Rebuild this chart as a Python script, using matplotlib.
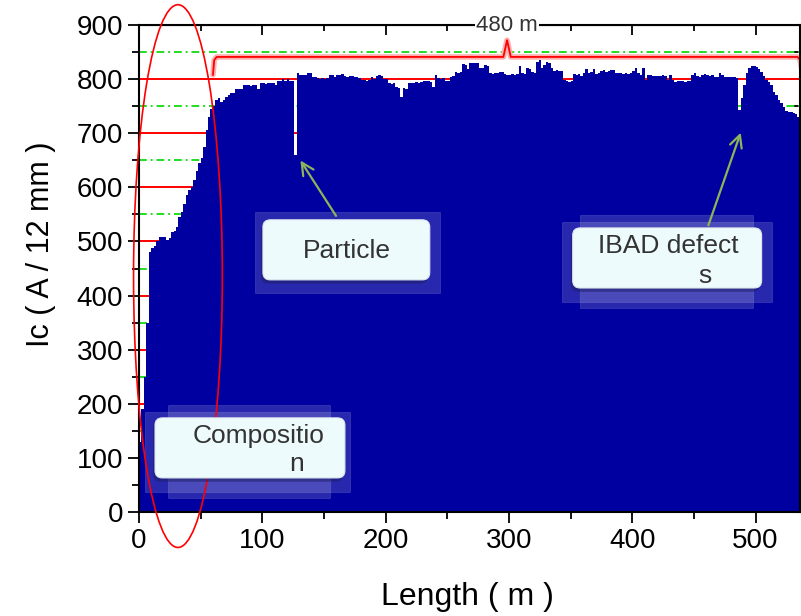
import numpy as np
import matplotlib.pyplot as plt
from matplotlib.patches import Ellipse, FancyBboxPatch, Rectangle

plt.rcParams['font.family'] = ['Liberation Sans', 'DejaVu Sans']

# Ic, one value per 2 m of tape
bin_width = 2.0
ic_values = [
    130, 190, 250, 350, 480, 488, 492, 500, 508, 508,
    508, 503, 506, 517, 520, 527, 545, 555, 570, 585,
    595, 600, 614, 630, 645, 655, 675, 706, 730, 745,
    750, 762, 765, 758, 762, 767, 770, 774, 775, 781,
    781, 781, 789, 789, 789, 788, 789, 790, 782, 792,
    792, 791, 793, 792, 792, 790, 796, 796, 800, 797,
    801, 796, 796, 660, 812, 808, 808, 807, 812, 812,
    803, 803, 802, 801, 802, 800, 802, 808, 808, 804,
    808, 807, 809, 806, 803, 805, 806, 803, 803, 802,
    798, 799, 797, 798, 803, 801, 806, 807, 806, 801,
    800, 792, 791, 793, 786, 784, 767, 783, 781, 792,
    793, 792, 794, 793, 795, 796, 796, 796, 795, 785,
    808, 802, 801, 802, 796, 797, 804, 805, 813, 812,
    813, 828, 826, 819, 830, 829, 830, 829, 820, 821,
    826, 825, 811, 810, 812, 811, 813, 814, 809, 808,
    808, 809, 807, 810, 824, 811, 810, 820, 818, 813,
    812, 832, 835, 820, 826, 832, 830, 820, 815, 816,
    815, 815, 798, 796, 795, 796, 809, 808, 809, 805,
    812, 819, 812, 813, 819, 810, 811, 815, 816, 814,
    815, 816, 816, 812, 811, 812, 810, 811, 810, 812,
    815, 820, 812, 808, 820, 798, 808, 808, 806, 806,
    805, 806, 807, 806, 798, 808, 798, 795, 796, 796,
    796, 795, 796, 796, 808, 811, 806, 804, 807, 809,
    808, 806, 808, 803, 804, 811, 808, 804, 803, 804,
    803, 803, 802, 743, 765, 789, 811, 820, 824, 824,
    822, 818, 813, 806, 798, 795, 789, 776, 770, 761,
    755, 749, 742, 740, 740, 738, 735, 730, 735,
]
length = np.arange(len(ic_values)) * bin_width

major_levels = [100, 200, 300, 400, 500, 600, 700, 800]
minor_levels = [50, 150, 250, 350, 450, 550, 650, 750, 850]
x_ticks = [0, 100, 200, 300, 400, 500]
y_ticks = [0, 100, 200, 300, 400, 500, 600, 700, 800, 900]

fig = plt.figure(figsize=(8.01, 6.16), dpi=100)
ax = fig.add_axes([0.1735, 0.1688, 0.8252, 0.7906])

for lv in major_levels:
    ax.axhline(lv, color='red', lw=1.4, zorder=0.5)
for lv in minor_levels:
    ax.axhline(lv, color='#22dd22', lw=1.4, ls=(0, (4, 2, 1, 2)), zorder=0.5)

ax.bar(length, ic_values, width=bin_width, align='edge', color='#0000a0',
       edgecolor='none', zorder=1)

ax.set_xlim(0, 536)
ax.set_ylim(0, 900)
ax.set_xticks(x_ticks)
ax.set_xticks(np.arange(50, 536, 100), minor=True)
ax.set_yticks(y_ticks)
ax.set_yticks(np.arange(50, 900, 100), minor=True)
ax.tick_params(which='both', direction='out', labelsize=20, width=1.3)
ax.tick_params(which='major', length=8)
ax.tick_params(which='minor', length=5)
for s in ax.spines.values():
    s.set_linewidth(1.5)

top = ax.secondary_xaxis('top')
top.set_xticks(x_ticks)
top.set_xticks(np.arange(50, 536, 100), minor=True)
top.set_xticklabels([])
top.tick_params(which='both', direction='in', width=1.3)
top.tick_params(which='major', length=7)
top.tick_params(which='minor', length=4)
right = ax.secondary_yaxis('right')
right.set_yticks(y_ticks)
right.set_yticks(np.arange(50, 900, 100), minor=True)
right.set_yticklabels([])
right.tick_params(which='both', direction='in', width=1.3)
right.tick_params(which='major', length=7)
right.tick_params(which='minor', length=4)

ax.set_xlabel('Length ( m )', fontsize=23)
ax.xaxis.set_label_coords(0.497, -0.143)
ax.set_ylabel('Ic ( A / 12 mm )', fontsize=22)
ax.yaxis.set_label_coords(-0.125, 0.55)

# red ellipse round the low start
ax.add_patch(Ellipse((31.6, 436), 72, 1003, fill=False, edgecolor='red',
                     lw=1.2, zorder=3, clip_on=False))

# bracket marking 480 m
bx = [60, 61, 63, 295.5, 298.5, 301.5, 534, 536, 538]
by = [808, 835, 841, 841, 872, 841, 841, 836, 812]
ax.plot(bx, by, color='#ffb0b0', lw=4, zorder=2, clip_on=False,
        solid_capstyle='round')
ax.plot(bx, by, color='red', lw=1.3, zorder=2.1, clip_on=False)
ax.text(298.5, 900, '480 m', fontsize=16, color='#333333', ha='center',
        va='center', zorder=6, clip_on=False,
        bbox=dict(facecolor='white', edgecolor='none', pad=1))

aspect = 2.28  # data-unit ratio so the corners look round


def callout(x0, x1, y0, y1, backs):
    for (a0, a1, b0, b1) in backs:
        ax.add_patch(Rectangle((a0, b0), a1 - a0, b1 - b0, facecolor='white',
                               alpha=0.16, edgecolor='#c8c8e0', lw=0.8,
                               zorder=2.5, clip_on=False))
    ax.add_patch(FancyBboxPatch((x0 - 1.6, y0 - 7), x1 - x0, y1 - y0,
                                boxstyle='round,pad=0,rounding_size=6',
                                mutation_aspect=aspect, facecolor='#1c1c60',
                                alpha=0.5, edgecolor='none', zorder=3.5))
    ax.add_patch(FancyBboxPatch((x0, y0), x1 - x0, y1 - y0,
                                boxstyle='round,pad=0,rounding_size=6',
                                mutation_aspect=aspect, facecolor='#eefbfd',
                                edgecolor='#dfe8ee', lw=0.8, zorder=4))


callout(100.5, 235.8, 429, 540, [(94, 244, 405, 554)])
ax.text(168.6, 482, 'Particle', fontsize=19, color='#333333',
        ha='center', va='center', zorder=5)

callout(351.7, 504.9, 414, 525, [(342.8, 513, 388, 536), (357.4, 497.6, 377, 549)])
ax.text(429, 492, 'IBAD defect', fontsize=19, color='#333333',
        ha='center', va='center', zorder=5)
ax.text(459, 437, 's', fontsize=19, color='#333333',
        ha='center', va='center', zorder=5)

callout(13, 167, 63, 174, [(4.9, 171, 37, 185), (23.5, 154.8, 26, 198)])
ax.text(97, 140, 'Compositio', fontsize=19, color='#333333',
        ha='center', va='center', zorder=5)
ax.text(128, 88, 'n', fontsize=19, color='#333333',
        ha='center', va='center', zorder=5)

arrow = dict(arrowstyle='->', color='#8db45a', lw=1.6, mutation_scale=22)
ax.annotate('', xy=(129.7, 654), xytext=(161, 543), arrowprops=arrow, zorder=5)
ax.annotate('', xy=(488.7, 706), xytext=(461, 525), arrowprops=arrow, zorder=5)

fig.savefig('out.png', dpi=100)
